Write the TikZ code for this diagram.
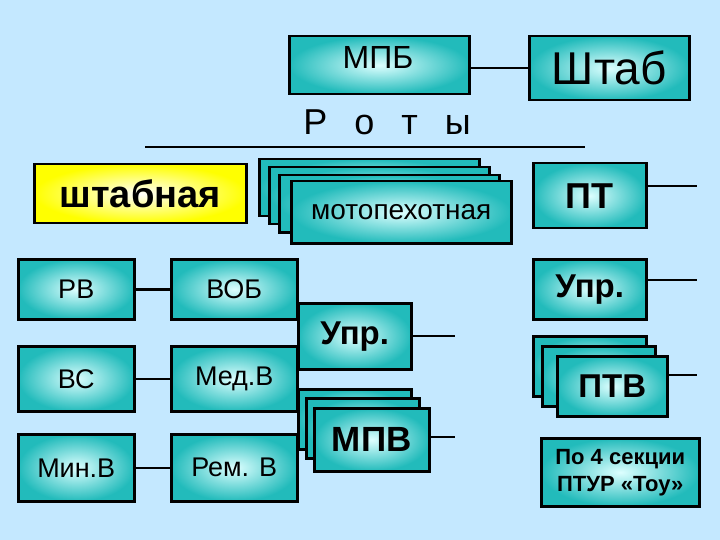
\documentclass[tikz,border=0pt]{standalone}
\usepackage{fontspec}
\setmainfont{Liberation Sans}
\definecolor{bg}{HTML}{C4E8FF}
\definecolor{tealb}{HTML}{22BBBB}
\definecolor{teali}{HTML}{DDFFFF}
\tikzset{
 bx/.style={draw=black, line width=2.5pt, inner color=teali, outer color=tealb, anchor=north west, inner sep=0pt, align=center},
 ln/.style={line width=2.5pt},
}
\begin{document}
\begin{tikzpicture}[x=1pt,y=-1pt]
\fill[bg] (0,0) rectangle (720,540);
\useasboundingbox (0,0) rectangle (720,540);
% top
\node[bx, minimum width=180pt, minimum height=58pt] (mpb) at (288,35) {};
\node[font=\fontsize{32}{34}\selectfont, anchor=center] (mpbt) at (378,57) {МПБ};
\node[bx, minimum width=160pt, minimum height=64pt, font=\fontsize{46}{48}\selectfont] (shtab) at (528,35) {Штаб};
\draw[ln] (mpb.east |- 0,68) -- (shtab.west |- 0,68);
\node[font=\fontsize{36}{38}\selectfont] (roty) at (387,122) {Р\hspace{0.75em}о\hspace{0.75em}т\hspace{0.75em}ы};
\coordinate (hl1) at (145,147); \coordinate (hl2) at (585,147);
\draw[ln] (hl1) -- (hl2);
% row 1
\node[draw=black, line width=2.5pt, inner color=white, outer color=yellow, anchor=north west, minimum width=212pt, minimum height=59pt, font=\bfseries\fontsize{38}{40}\selectfont, inner sep=0pt] (shtabnaya) at (33,163) {штабная};
\node[bx, minimum width=220pt, minimum height=57pt] (m1) at (258,158) {};
\node[bx, minimum width=220pt, minimum height=57pt] (m2) at (268,166) {};
\node[bx, minimum width=220pt, minimum height=57pt] (m3) at (278,174) {};
\node[bx, minimum width=220pt, minimum height=62pt, font=\fontsize{28}{30}\selectfont] (moto) at (290,180) {мотопехотная};
\node[bx, minimum width=113pt, minimum height=65pt, font=\bfseries\fontsize{36}{38}\selectfont] (pt) at (532,162) {ПТ};
\coordinate (ptl) at (697,186);
\draw[ln] (pt.east |- ptl) -- (ptl);
% left columns
\node[bx, minimum width=116pt, minimum height=60pt, font=\fontsize{27}{29}\selectfont] (rv) at (17,258) {РВ};
\node[bx, minimum width=126pt, minimum height=60pt, font=\fontsize{27}{29}\selectfont] (vob) at (170,258) {ВОБ};
\draw[ln] (rv.east) -- (vob.west);
\node[bx, minimum width=116pt, minimum height=65pt, font=\fontsize{27}{29}\selectfont] (vs) at (17,345) {ВС};
\node[bx, minimum width=126pt, minimum height=65pt, font=\fontsize{27}{29}\selectfont] (med) at (170,345) {Мед.В};
\draw[ln] (vs.east) -- (med.west);
\node[bx, minimum width=116pt, minimum height=67pt, font=\fontsize{27}{29}\selectfont] (min) at (17,433) {Мин.В};
\node[bx, minimum width=126pt, minimum height=67pt, font=\fontsize{27}{29}\selectfont] (rem) at (170,433) {Рем. В};
\draw[ln] (min.east) -- (rem.west);
% middle
\node[bx, minimum width=113pt, minimum height=66pt, font=\bfseries\fontsize{33}{35}\selectfont] (uprm) at (297,302) {Упр.};
\coordinate (uprml) at (455,336);
\draw[ln] (uprm.east |- uprml) -- (uprml);
\node[bx, minimum width=113pt, minimum height=60pt] (v1) at (297,388) {};
\node[bx, minimum width=113pt, minimum height=60pt] (v2) at (305,397) {};
\node[bx, minimum width=115pt, minimum height=63pt, font=\bfseries\fontsize{35}{37}\selectfont] (mpv) at (313,407) {МПВ};
\coordinate (mpvl) at (455,437);
\draw[ln] (mpv.east |- mpvl) -- (mpvl);
% right
\node[bx, minimum width=113pt, minimum height=60pt, font=\bfseries\fontsize{33}{35}\selectfont] (uprr) at (532,258) {Упр.};
\coordinate (uprrl) at (697,280);
\draw[ln] (uprr.east |- uprrl) -- (uprrl);
\node[bx, minimum width=113pt, minimum height=60pt] (p1) at (532,335) {};
\node[bx, minimum width=113pt, minimum height=60pt] (p2) at (541,345) {};
\node[bx, minimum width=110pt, minimum height=60pt, font=\bfseries\fontsize{33}{35}\selectfont] (ptv) at (556,355) {ПТВ};
\coordinate (ptvl) at (697,375);
\draw[ln] (ptv.east |- ptvl) -- (ptvl);
\node[bx, minimum width=158pt, minimum height=68pt, font=\bfseries\fontsize{22}{27}\selectfont] (ptur) at (540,437) {По 4 секции\\ПТУР «Тоу»};
\end{tikzpicture}
\end{document}
